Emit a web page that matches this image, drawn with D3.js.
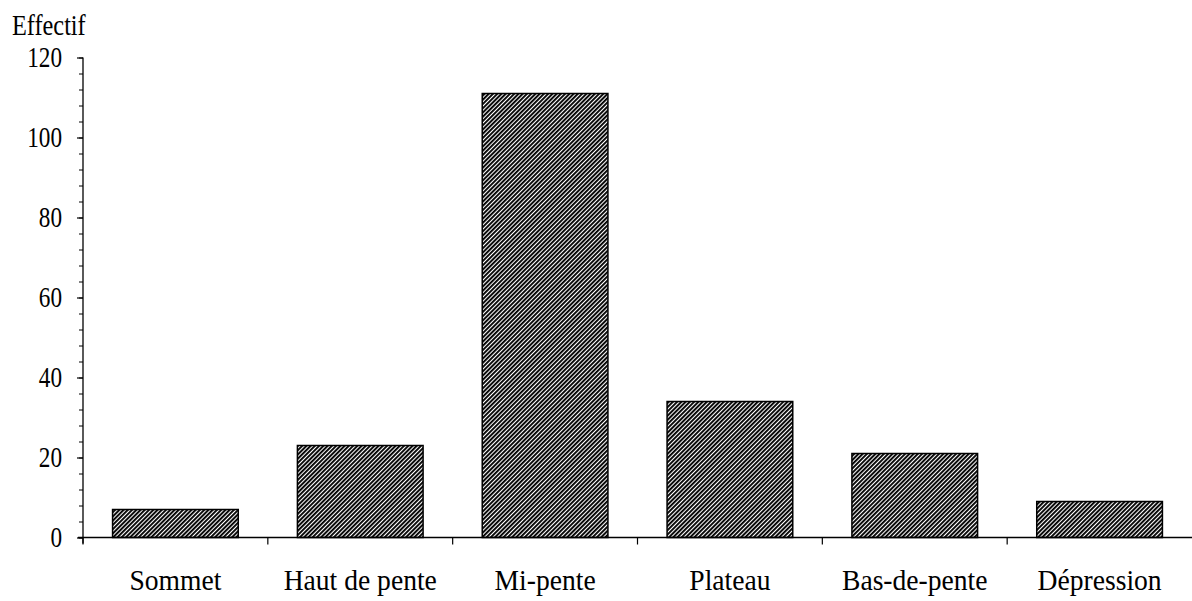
<!DOCTYPE html>
<html>
<head>
<meta charset="utf-8">
<script src="https://d3js.org/d3.v7.min.js"></script>
<style>
  body { margin: 0; background: #fff; }
  svg { display: block; }
  text { font-family: "Liberation Serif", "Times New Roman", serif; fill: #000; }
</style>
</head>
<body>
<div id="chart"></div>
<script>
// data
var categories = ['Sommet', 'Haut de pente', 'Mi-pente', 'Plateau', 'Bas-de-pente', 'Dépression'];
var effectifs  = [7, 23, 111, 34, 21, 9];
var majorTicks = [0, 20, 40, 60, 80, 100, 120];
var minorTicks = d3.range(0, 121, 4);
var yTitle     = 'Effectif';

var width    = 1192,
    height   = 601,
    xLeft    = 83,
    xRight   = 1192,
    yTop     = 57.5,
    yBottom  = 537.5,
    fontSize = 30;

var svg = d3.select('#chart')
    .append('svg')
    .attr('width', width)
    .attr('height', height);

// diagonal hatching, like the plotter fill
var defs = svg.append('defs');
defs.append('pattern')
    .attr('id', 'hatch')
    .attr('patternUnits', 'userSpaceOnUse')
    .attr('width', 3)
    .attr('height', 3)
    .attr('patternTransform', 'rotate(45)')
  .append('rect')
    .attr('x', 0)
    .attr('y', 0)
    .attr('width', 1.9)
    .attr('height', 3)
    .attr('fill', '#000');

var x = d3.scaleBand()
    .domain(categories)
    .range([xLeft, xRight])
    .paddingInner(0.32)
    .paddingOuter(0.16);

var y = d3.scaleLinear()
    .domain([0, 120])
    .range([yBottom, yTop]);

/* ----------- bars ----------- */
svg.append('g')
    .selectAll('rect')
    .data(categories)
  .enter().append('rect')
    .attr('x', function(d){ return x(d); })
    .attr('y', function(d, i){ return y(effectifs[i]); })
    .attr('width', x.bandwidth())
    .attr('height', function(d, i){ return y(0) - y(effectifs[i]); })
    .attr('fill', 'url(#hatch)')
    .attr('stroke', '#000')
    .attr('stroke-width', 1.5);

/* ----------- y axis ----------- */
var sxY = 0.8;

var yMinor = svg.append('g')
    .attr('transform', 'translate(' + xLeft + ',0)')
    .call(d3.axisLeft(y).tickValues(minorTicks).tickSize(4).tickFormat(''));
yMinor.select('.domain').remove();

var yAxis = svg.append('g')
    .attr('transform', 'translate(' + xLeft + ',0)')
    .call(d3.axisLeft(y).tickValues(majorTicks).tickSize(6).tickSizeOuter(0));
yAxis.select('.domain').remove();
yAxis.selectAll('line').attr('stroke-width', 1.2);
yAxis.selectAll('text')
    .attr('font-size', 29)
    .attr('font-family', '"Liberation Serif", serif')
    .attr('x', -21 / sxY)
    .attr('dy', '0.3em')
    .attr('transform', 'scale(' + sxY + ',1)');

svg.append('line')
    .attr('x1', xLeft).attr('x2', xLeft)
    .attr('y1', y(120)).attr('y2', y(0) + 6)
    .attr('stroke', '#000')
    .attr('stroke-width', 1.3);

/* ----------- x axis ----------- */
svg.append('line')
    .attr('x1', xLeft - 5).attr('x2', xRight)
    .attr('y1', y(0)).attr('y2', y(0))
    .attr('stroke', '#000')
    .attr('stroke-width', 1.3);

var bounds = categories.map(function(d){ return x(d) - x.step() * x.paddingInner() / 2; });

svg.append('g')
    .selectAll('line')
    .data(bounds)
  .enter().append('line')
    .attr('x1', function(d){ return d; })
    .attr('x2', function(d){ return d; })
    .attr('y1', y(0))
    .attr('y2', y(0) + 7)
    .attr('stroke', '#000')
    .attr('stroke-width', 1.2);

var sxX = 0.92;
var xAxis = svg.append('g')
    .attr('transform', 'translate(0,' + y(0) + ')')
    .call(d3.axisBottom(x).tickSize(0));
xAxis.select('.domain').remove();
xAxis.selectAll('text')
    .attr('font-size', fontSize)
    .attr('font-family', '"Liberation Serif", serif')
    .attr('y', 52.5)
    .attr('dy', 0)
    .attr('transform', 'scale(' + sxX + ',1)');

/* ----------- title ----------- */
svg.append('text')
    .attr('transform', 'translate(12,35) scale(0.81,1)')
    .attr('font-size', fontSize)
    .text(yTitle);
</script>
</body>
</html>
